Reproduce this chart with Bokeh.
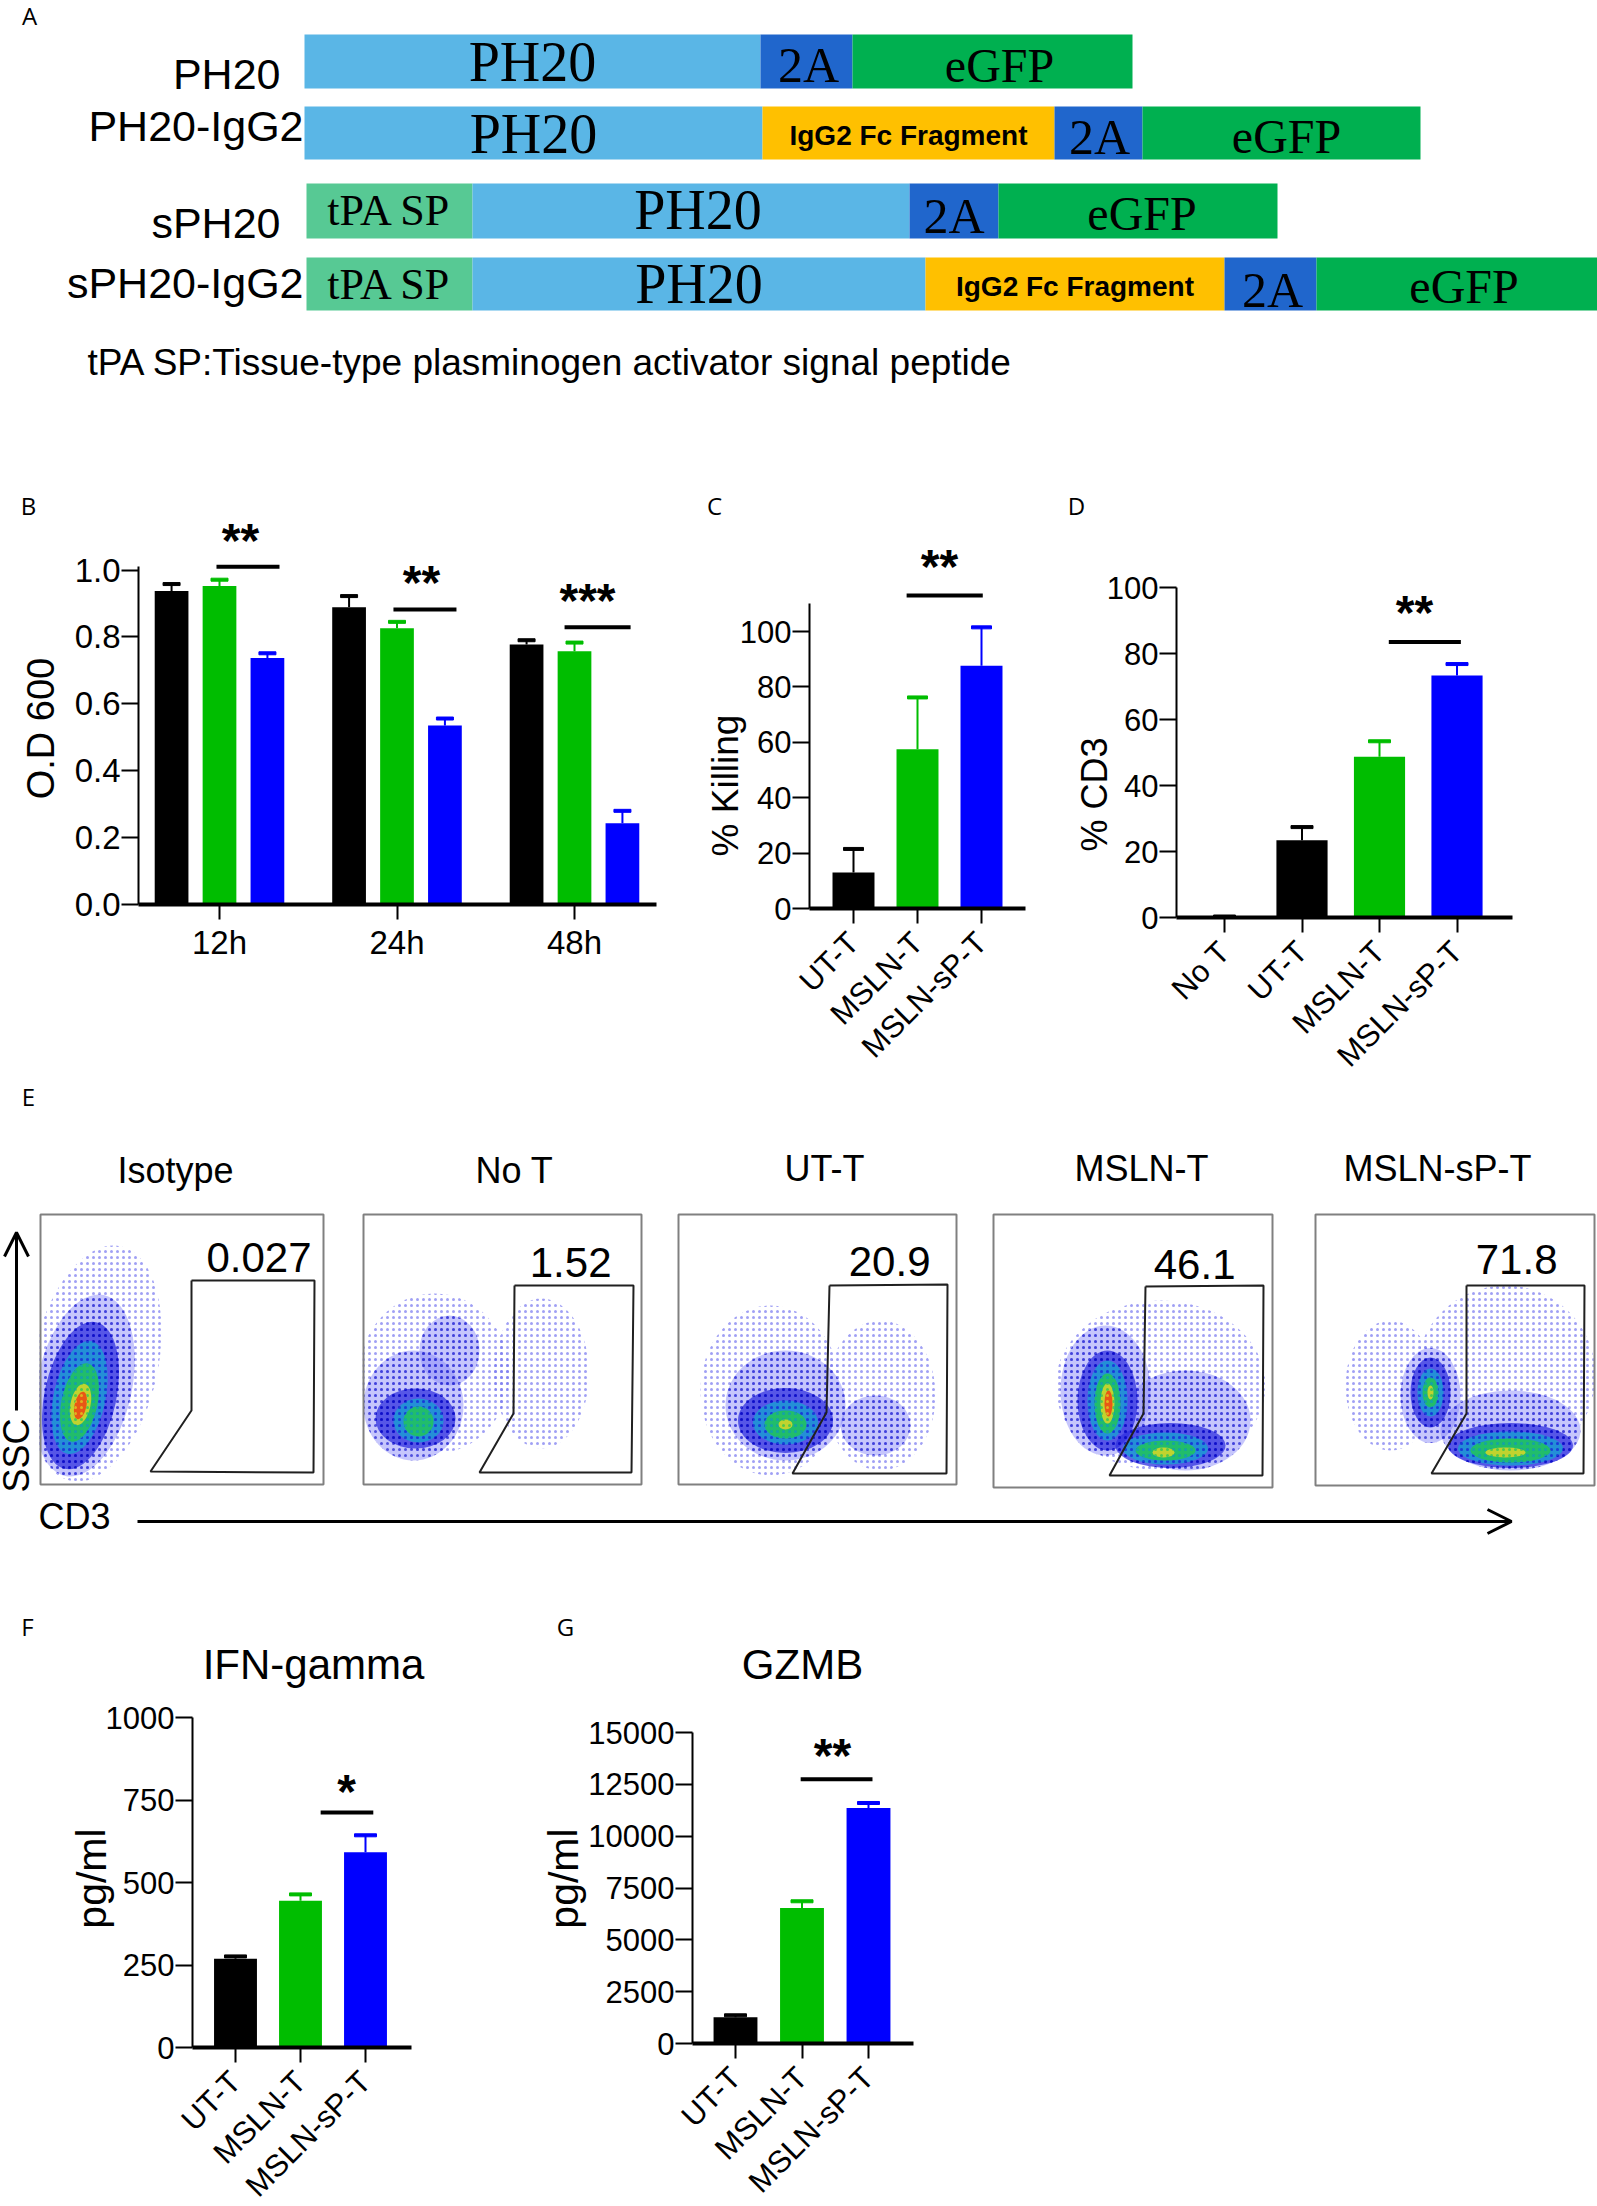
from math import pi
from bokeh.core.properties import value
from bokeh.embed import file_html
from bokeh.layouts import column, row
from bokeh.models import Arrow, FixedTicker, OpenHead, PrintfTickFormatter, Range1d
from bokeh.plotting import figure
from bokeh.resources import INLINE

BLACK = "#000000"
GREEN = "#00BD00"
BLUE = "#0000FF"
SANS = "Liberation Sans"
SERIF = "Liberation Serif"
LETTER = "Open Sans"

# panel A: constructs, segment lengths along the bar
constructs = ["PH20", "PH20-IgG2", "sPH20", "sPH20-IgG2"]
segments = [
    ["PH20", "2A", "eGFP"],
    ["PH20", "IgG2 Fc Fragment", "2A", "eGFP"],
    ["tPA SP", "PH20", "2A", "eGFP"],
    ["tPA SP", "PH20", "IgG2 Fc Fragment", "2A", "eGFP"],
]
lengths = [
    [456, 92, 280],
    [458, 292, 88, 278],
    [166, 437, 89, 279],
    [166, 453, 299, 92, 281],
]
segment_colors = {"PH20": "#5AB6E6", "2A": "#2066CC", "eGFP": "#00B050",
                  "IgG2 Fc Fragment": "#FFC000", "tPA SP": "#57C994"}
footnote = "tPA SP:Tissue-type plasminogen activator signal peptide"

# panel B
od_groups = ["12h", "24h", "48h"]
od_ut = [0.937, 0.889, 0.777]
od_ut_err = [0.958, 0.922, 0.790]
od_msln = [0.952, 0.826, 0.757]
od_msln_err = [0.971, 0.845, 0.783]
od_sp = [0.737, 0.535, 0.243]
od_sp_err = [0.751, 0.556, 0.280]

# panel C
kill_names = ["UT-T", "MSLN-T", "MSLN-sP-T"]
kill_vals = [13, 57.5, 87.6]
kill_err = [21.5, 76.2, 101.5]

# panel D
cd3_names = ["No T", "UT-T", "MSLN-T", "MSLN-sP-T"]
cd3_vals = [0.3, 23.4, 48.7, 73.3]
cd3_err = [0.3, 27.4, 53.4, 76.8]

# panel E
flow_titles = ["Isotype", "No T", "UT-T", "MSLN-T", "MSLN-sP-T"]
flow_pct = ["0.027", "1.52", "20.9", "46.1", "71.8"]
box_left = [40, 363, 678, 993, 1315]
box_right = [323, 641, 956, 1272, 1594]
box_bottom = [1484, 1484, 1484, 1487, 1485]
gate_x = [
    [191, 314, 313, 150, 191, 191],
    [514, 633, 631, 479, 513, 514],
    [829, 947, 946, 792, 826, 829],
    [1145, 1263, 1262, 1109, 1143, 1145],
    [1466, 1584, 1583, 1431, 1466, 1466],
]
gate_y = [
    [1280, 1280, 1472, 1471, 1410, 1280],
    [1285, 1285, 1472, 1472, 1413, 1285],
    [1285, 1284, 1473, 1473, 1412, 1285],
    [1286, 1285, 1475, 1475, 1413, 1286],
    [1285, 1285, 1473, 1473, 1413, 1285],
]
# density clouds: level, x, y, width, height, tilt
clouds = [
    (0, 95, 1363, 125, 240, -0.21), (1, 84, 1385, 95, 185, -0.21), (2, 80, 1395, 72, 150, -0.21),
    (3, 79, 1397, 52, 115, -0.21), (4, 79, 1402, 36, 80, -0.21), (5, 80, 1404, 20, 42, -0.21), (6, 80, 1405, 12, 28, -0.21),
    (0, 434, 1373, 150, 160, 0), (0, 541, 1373, 95, 150, 0), (1, 413, 1405, 100, 110, 0), (1, 449, 1350, 60, 70, 0),
    (2, 415, 1418, 80, 60, 0), (3, 418, 1420, 50, 44, 0), (4, 418, 1421, 30, 30, 0),
    (0, 770, 1390, 140, 170, 0), (0, 880, 1395, 110, 150, 0), (1, 875, 1425, 70, 60, 0), (1, 785, 1405, 120, 110, 0),
    (2, 785, 1420, 95, 65, 0), (3, 785, 1422, 65, 44, 0), (4, 785, 1424, 42, 28, 0), (5, 785, 1424, 14, 10, 0),
    (0, 1160, 1385, 210, 170, 0), (1, 1105, 1390, 90, 130, 0), (1, 1185, 1420, 130, 100, 0), (2, 1107, 1400, 60, 100, 0),
    (2, 1170, 1445, 110, 45, 0), (3, 1107, 1400, 40, 80, 0), (3, 1165, 1448, 85, 32, 0), (4, 1107, 1403, 26, 60, 0),
    (4, 1165, 1450, 60, 20, 0), (5, 1107, 1403, 14, 40, 0), (6, 1108, 1403, 8, 26, 0), (5, 1163, 1452, 22, 10, 0),
    (0, 1505, 1375, 180, 180, 0), (0, 1390, 1385, 90, 130, 0), (1, 1430, 1395, 60, 95, 0), (1, 1510, 1430, 140, 80, 0),
    (2, 1430, 1392, 40, 70, 0), (2, 1510, 1445, 125, 45, 0), (3, 1430, 1392, 26, 48, 0), (3, 1510, 1448, 105, 34, 0),
    (4, 1430, 1392, 16, 30, 0), (4, 1510, 1450, 80, 24, 0), (5, 1430, 1392, 6, 14, 0), (5, 1505, 1452, 40, 10, 0),
]
level_colors = ["#FFFFFF", "#8080F8", "#3030E0", "#10A8D0", "#20C850", "#E8D820", "#F04010"]
level_alpha = [0.0, 0.45, 0.75, 0.7, 0.8, 0.8, 0.85]
hatch_colors = ["#7878F0", "#2020D0", "#0000C0", "#2020E0", "#10A0C0", "#20C850", "#E8D820"]

# panel F
ifn_vals = [269, 445, 592]
ifn_err = [276, 464, 643]

# panel G
gzmb_vals = [1270, 6540, 11360]
gzmb_err = [1360, 6860, 11600]

# rotated tick labels need a little more room than the row has; the rows overlap by this much
SPARE = 40


def bar_chart(x0, x1, y0, y1, left, right, zero, unit, first, step, ymax, yticks, names, tick_size="31px"):
    p = figure(width=x1 - x0, height=y1 - y0, output_backend="svg", toolbar_location=None,
               x_range=Range1d((left - first) / step, (right - first) / step),
               y_range=Range1d(0, (zero - y0) / unit), frame_align=False,
               min_border_left=left - x0, min_border_right=x1 - right,
               min_border_top=0, min_border_bottom=y1 - zero)
    p.outline_line_color = None
    p.grid.visible = False
    p.yaxis.bounds = (0, ymax)
    p.yaxis.ticker = FixedTicker(ticks=yticks)
    p.xaxis.ticker = FixedTicker(ticks=list(range(len(names))))
    p.xaxis.major_label_overrides = dict(enumerate(names))
    p.axis.major_label_text_font = SANS
    p.axis.major_label_text_font_size = tick_size
    p.axis.major_label_text_color = BLACK
    p.axis.minor_tick_line_color = None
    p.axis.major_tick_in = 0
    p.axis.major_tick_line_color = BLACK
    p.axis.axis_line_color = BLACK
    p.axis.major_tick_line_width = 2
    p.yaxis.axis_line_width = 2
    p.xaxis.axis_line_width = 4
    p.yaxis.major_tick_out = 17
    p.xaxis.major_tick_out = 15
    p.yaxis.major_label_standoff = 1
    return p


def draw_bars(p, xs, vals, errs, colors, width, cap):
    p.segment(xs, vals, xs, errs, line_color=colors, line_width=2)
    p.rect(xs, errs, width=cap, height=3, width_units="screen", height_units="screen", color=colors)
    p.vbar(x=xs, top=vals, width=width, color=colors, line_color=None)


# ---- A ----
pa = figure(width=1597, height=470, output_backend="svg", toolbar_location=None,
            x_range=Range1d(0, 1597), y_range=Range1d(470, 0),
            min_border=0, x_axis_type=None, y_axis_type=None)
pa.outline_line_color = None
pa.grid.visible = False
row_top = [34, 106, 183, 257]
row_bottom = [88, 159, 238, 310]
row_start = [304, 304, 306, 306]
row_label_y = [73, 125, 222, 282]
row_text_y = [[61, 64, 65], [133, 135, 136, 136], [210, 209, 215, 213], [284, 283, 286, 289, 286]]
row_text_dx = [[0, 2, 7], [0, 0, 1, 5], [0, 7, 0, 4], [0, 0, 0, 2, 7]]
seg_style = {"PH20": (SERIF, "56px", "normal"), "2A": (SERIF, "50px", "normal"), "eGFP": (SERIF, "48px", "normal"),
             "IgG2 Fc Fragment": (SANS, "28px", "bold"), "tPA SP": (SERIF, "44px", "normal")}
for i, name in enumerate(constructs):
    start = row_start[i]
    for j, seg in enumerate(segments[i]):
        end = start + lengths[i][j]
        pa.quad(left=[start], right=[end], top=[row_top[i]], bottom=[row_bottom[i]],
                color=segment_colors[seg], line_color=None)
        font, size, style = seg_style[seg]
        pa.text([(start + end) / 2 + row_text_dx[i][j]], [row_text_y[i][j]], text=[seg], text_font=value(font),
                text_font_size=value(size), text_font_style=style, text_align="center",
                text_baseline="middle", text_color=BLACK)
        start = end
    pa.text([303 if "IgG2" in name else 280], [row_label_y[i]], text=[name], text_font=value(SANS),
            text_font_size=value("43px"), text_align="right", text_baseline="middle", text_color=BLACK)
pa.text([87], [362], text=[footnote], text_font=value(SANS), text_font_size=value("37px"),
        text_baseline="middle", text_color=BLACK)

# ---- B ----
pb = bar_chart(0, 700, 470, 1080 + SPARE, 138, 656, 904, 334.5, 219, 177.5, 1.01,
               [0, 0.2, 0.4, 0.6, 0.8, 1.0], od_groups, tick_size="33px")
pb.yaxis.formatter = PrintfTickFormatter(format="%.1f")
pb.xaxis.major_label_standoff = 4
for off, vals, errs, col in [(-0.27, od_ut, od_ut_err, BLACK), (0.0, od_msln, od_msln_err, GREEN), (0.27, od_sp, od_sp_err, BLUE)]:
    xs = [i + off for i in range(3)]
    draw_bars(pb, xs, vals, errs, [col] * 3, 0.19, 17)
pb.segment([-0.017, 0.98, 1.944], [1.01, 0.882, 0.829], [0.338, 1.335, 2.316], [1.01, 0.882, 0.829],
           line_color=BLACK, line_width=4)

# ---- C ----
pc = bar_chart(700, 1050, 470, 1080 + SPARE, 809, 1025, 908, 2.77, 853, 64, 110,
               [0, 20, 40, 60, 80, 100], kill_names)
draw_bars(pc, [0, 1, 2], kill_vals, kill_err, [BLACK, GREEN, BLUE], 0.656, 20)
pc.segment([0.83], [113], [2.02], [113], line_color=BLACK, line_width=4)

# ---- D ----
pd = bar_chart(1050, 1597, 470, 1080 + SPARE, 1176, 1512, 917, 3.3, 1224, 77.5, 100,
               [0, 20, 40, 60, 80, 100], cd3_names)
draw_bars(pd, [0, 1, 2, 3], cd3_vals, cd3_err, [BLACK, BLACK, GREEN, BLUE], 0.66, 22)
pd.segment([2.12], [83.5], [3.05], [83.5], line_color=BLACK, line_width=4)

# ---- E ----
pe = figure(width=1597, height=520, output_backend="svg", toolbar_location=None,
            x_range=Range1d(0, 1597), y_range=Range1d(1600, 1080),
            min_border=0, x_axis_type=None, y_axis_type=None)
pe.outline_line_color = None
pe.grid.visible = False
for lev, cx, cy, w, h, tilt in clouds:
    pe.ellipse([cx], [cy], width=[w], height=[h], angle=[tilt], fill_color=level_colors[lev],
               fill_alpha=level_alpha[lev], line_color=None, hatch_pattern="dot",
               hatch_color=hatch_colors[lev], hatch_scale=6, hatch_weight=1.5, hatch_alpha=0.7)
# keep the clouds inside their frames on the left edge
pe.quad(left=[0, 324], right=[39, 362], top=[1200, 1200], bottom=[1500, 1500], color="white", line_color=None)
pe.quad(left=box_left, right=box_right, top=[1214] * 5, bottom=box_bottom,
        fill_color=None, line_color="#808080", line_width=2)
pe.multi_line(gate_x, gate_y, line_color="#202020", line_width=2)
pe.text([175, 514, 824, 1141, 1437], [1170, 1170, 1168, 1168, 1168], text=flow_titles, text_font=value(SANS),
        text_font_size=value("36px"), text_align="center", text_baseline="middle", text_color=BLACK)
pe.text([311, 611, 930, 1235, 1557], [1257, 1262, 1261, 1264, 1259], text=flow_pct, text_font=value(SANS),
        text_font_size=value("42px"), text_align="right", text_baseline="middle", text_color=BLACK)
pe.text([16], [1455], text=["SSC"], angle=[pi / 2], text_font=value(SANS), text_font_size=value("36px"),
        text_align="center", text_baseline="middle", text_color=BLACK)
pe.text([38], [1516], text=["CD3"], text_font=value(SANS), text_font_size=value("36px"),
        text_baseline="middle", text_color=BLACK)
pe.add_layout(Arrow(end=OpenHead(size=24, line_width=3, line_color=BLACK), x_start=16, y_start=1410, x_end=16, y_end=1232,
                    line_color=BLACK, line_width=3))
pe.add_layout(Arrow(end=OpenHead(size=24, line_width=3, line_color=BLACK), x_start=137, y_start=1521, x_end=1511, y_end=1521,
                    line_color=BLACK, line_width=3))

# ---- F ----
pf = bar_chart(0, 530, 1600, 2206 + SPARE, 192, 411, 2047, 0.33, 235, 65, 1000,
               [0, 250, 500, 750, 1000], kill_names)
draw_bars(pf, [0, 1, 2], ifn_vals, ifn_err, [BLACK, GREEN, BLUE], 0.66, 22)
pf.segment([1.31], [712], [2.12], [712], line_color=BLACK, line_width=4)

# ---- G ----
pg = bar_chart(530, 1597, 1600, 2206 + SPARE, 692, 913, 2043, 0.020733, 735, 66.5, 15000,
               [0, 2500, 5000, 7500, 10000, 12500, 15000], kill_names)
draw_bars(pg, [0, 1, 2], gzmb_vals, gzmb_err, [BLACK, GREEN, BLUE], 0.66, 22)
pg.segment([0.98], [12750], [2.06], [12750], line_color=BLACK, line_width=4)

for p in [pc, pd, pf, pg]:
    p.xaxis.major_label_orientation = pi / 4
    p.xaxis.major_label_standoff = 14

# ---- panel letters, axis titles and stars, laid over the whole page ----
over = figure(width=1597, height=2206, output_backend="svg", toolbar_location=None,
              x_range=Range1d(0, 1597), y_range=Range1d(2206, 0), min_border=0,
              x_axis_type=None, y_axis_type=None, margin=(-2206, 0, 0, 0),
              background_fill_color=None, border_fill_color=None)
over.outline_line_color = None
over.grid.visible = False


def note(x, y, text, size, font=SANS, angle=0, style="normal"):
    over.text([x], [y], text=[text], text_font=value(font), text_font_size=value(size), angle=[angle],
              text_font_style=style, text_align="center", text_baseline="middle", text_color=BLACK)


letter_names = ["A", "B", "C", "D", "E", "F", "G"]
letter_x = [29, 28, 714, 1076, 28, 27, 565]
letter_y = [15, 505, 505, 505, 1096, 1626, 1626]
for t, x, y in zip(letter_names, letter_x, letter_y):
    note(x, y, t, "24px", font=LETTER)
note(40, 728, "O.D 600", "38px", angle=pi / 2)
note(725, 785, "% Killing", "37px", angle=pi / 2)
note(1094, 794, "% CD3", "36px", angle=pi / 2)
note(91, 1878, "pg/ml", "41px", angle=pi / 2)
note(563, 1878, "pg/ml", "41px", angle=pi / 2)
note(313, 1664, "IFN-gamma", "42px")
note(802, 1664, "GZMB", "42px")
star_text = ["**", "**", "***", "**", "**", "*", "**"]
star_x = [240, 421, 587, 939, 1414, 346, 832]
star_y = [540, 582, 600, 566, 612, 1791, 1755]
for t, x, y in zip(star_text, star_x, star_y):
    note(x, y, t, "48px", style="bold")

layout = column(pa, row(pb, pc, pd, margin=(0, 0, -SPARE, 0)), pe, row(pf, pg, margin=(0, 0, -SPARE, 0)), over)
open("out.html", "w").write(file_html(layout, INLINE))
